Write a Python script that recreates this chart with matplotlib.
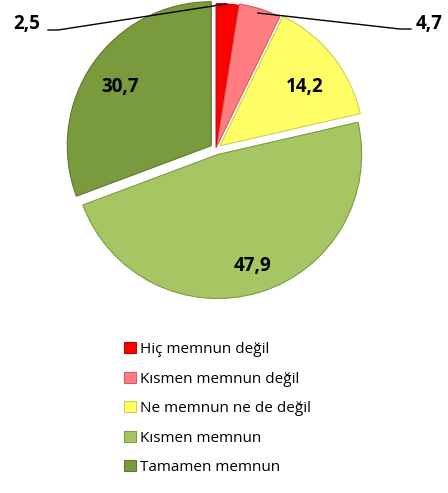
import matplotlib.pyplot as plt
from matplotlib.patches import Patch

# değerler
labels = ["Hiç memnun değil", "Kısmen memnun değil", "Ne memnun ne de değil",
          "Kısmen memnun", "Tamamen memnun"]
values = [2.5, 4.7, 14.2, 47.9, 30.7]
value_text = ["2,5", "4,7", "14,2", "47,9", "30,7"]
colors = ["#FF0000", "#FF7C80", "#FFFF66", "#A6C563", "#7A9A3E"]
edges = ["#C00000", "#D06060", "#CFCF50", "#7F9A45", "#5E7A2E"]

plt.rcParams['font.family'] = ['Open Sans', 'DejaVu Sans']

fig = plt.figure(figsize=(4.48, 4.93), dpi=100)
ax = fig.add_axes([0, 0, 1, 1])

cx, cy, R = 216, 149, 144  # piksel

wedges, _ = ax.pie(values, colors=colors, startangle=90, counterclock=False,
                   explode=[0.01, 0.02, 0.035, 0.04, 0.04], radius=1,
                   wedgeprops=dict(linewidth=0.8))
for w, e in zip(wedges, edges):
    w.set_edgecolor(e)

ax.set_xlim(-cx / R, (448 - cx) / R)
ax.set_ylim(-(493 - cy) / R, cy / R)
ax.set_aspect('equal')
ax.axis('off')


def px(x, y):
    return (x - cx) / R, (cy - y) / R


bold = dict(fontsize=13.5, fontweight='bold', color='black', ha='center', va='center')
ax.text(*px(305, 87), value_text[2], **bold)
ax.text(*px(253, 266), value_text[3], **bold)
ax.text(*px(120, 87), value_text[4], **bold)

# leader lines
ax.plot(*zip(px(48, 30), px(58, 30), px(226, 4)), color='black', lw=1)
ax.text(*px(27, 24), value_text[0], **bold)
ax.plot(*zip(px(258, 13), px(400, 29), px(411, 29)), color='black', lw=1)
ax.text(*px(429, 24), value_text[1], **bold)

handles = [Patch(facecolor=c, edgecolor=e, lw=0.8) for c, e in zip(colors, edges)]
fig.legend(handles, labels, loc='upper left', bbox_to_anchor=(118 / 448, 1 - 336 / 493),
           frameon=False, fontsize=11, handlelength=0.75, handleheight=0.75,
           handletextpad=0.3, labelspacing=0.95, borderaxespad=0)

fig.savefig('out.png', dpi=100)
